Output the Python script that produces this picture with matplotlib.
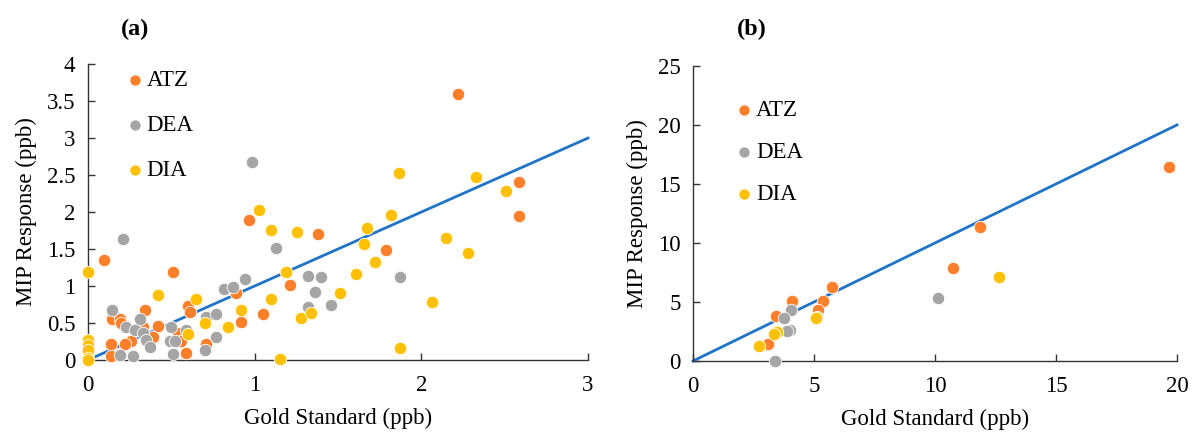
import matplotlib
matplotlib.use("Agg")
import matplotlib.pyplot as plt

plt.rcParams['font.family'] = ['Liberation Serif', 'DejaVu Serif']

# Panel (a) data
a_atz_x = [0.096, 0.51, 0.966, 1.38, 1.21, 0.89, 1.05, 0.92, 0.34, 0.146, 0.19, 0.20,
           0.33, 0.42, 0.60, 0.61, 0.54, 0.56, 0.39, 0.26, 0.22, 0.136, 0.136, 0.59, 0.71,
           2.22, 2.586, 2.586, 1.786]
a_atz_y = [1.35, 1.19, 1.89, 1.70, 1.01, 0.90, 0.62, 0.52, 0.67, 0.55, 0.56, 0.50,
           0.45, 0.46, 0.73, 0.65, 0.36, 0.25, 0.31, 0.26, 0.22, 0.22, 0.05, 0.09, 0.22,
           3.60, 2.40, 1.94, 1.48]
a_dea_x = [0.986, 0.21, 1.13, 0.94, 0.816, 0.87, 1.32, 1.40, 1.36, 1.46, 1.32, 0.146,
           0.23, 0.28, 0.31, 0.33, 0.35, 0.37, 0.50, 0.49, 0.52, 0.59, 0.71, 0.77, 0.77,
           0.70, 0.51, 0.27, 0.19, 1.87]
a_dea_y = [2.68, 1.64, 1.52, 1.10, 0.955, 0.98, 1.135, 1.12, 0.92, 0.75, 0.72, 0.675,
           0.45, 0.41, 0.55, 0.36, 0.27, 0.17, 0.45, 0.26, 0.26, 0.40, 0.58, 0.62, 0.31,
           0.13, 0.08, 0.05, 0.07, 1.12]
a_dia_x = [1.026, 1.096, 1.254, 1.19, 0.0, 0.42, 0.646, 1.096, 1.51, 0.92, 0.70, 0.84,
           1.276, 1.34, 0.60, 1.15, 0.0, 0.0, 0.0, 0.0, 0.0,
           1.866, 2.33, 2.51, 1.816, 1.676, 1.656, 2.15, 2.28, 1.72, 1.61, 2.066, 1.87]
a_dia_y = [2.03, 1.76, 1.73, 1.185, 1.185, 0.88, 0.83, 0.82, 0.90, 0.675, 0.50, 0.45,
           0.57, 0.63, 0.35, 0.01, 0.27, 0.20, 0.135, 0.03, 0.0,
           2.53, 2.48, 2.29, 1.955, 1.79, 1.57, 1.65, 1.45, 1.33, 1.16, 0.78, 0.16]

# Panel (b) data
b_atz_x = [5.76, 4.08, 5.36, 5.18, 3.43, 3.11, 11.86, 10.73, 19.68]
b_atz_y = [6.24, 5.11, 5.08, 4.32, 3.84, 1.41, 11.38, 7.91, 16.41]
b_dea_x = [4.04, 3.77, 4.01, 3.87, 3.39, 5.11, 10.14]
b_dea_y = [4.32, 3.61, 2.63, 2.54, 0.0, 3.70, 5.34]
b_dia_x = [5.08, 3.46, 3.36, 2.74, 12.64]
b_dia_y = [3.61, 2.49, 2.29, 1.30, 7.09]

a_xticks = [0, 1, 2, 3]
a_yticks = [0, 0.5, 1, 1.5, 2, 2.5, 3, 3.5, 4]
a_ytick_labels = ['0', '0.5', '1', '1.5', '2', '2.5', '3', '3.5', '4']
b_xticks = [0, 5, 10, 15, 20]
b_yticks = [0, 5, 10, 15, 20, 25]

C_ATZ = '#FF7F2A'
C_DEA = '#A5A5A5'
C_DIA = '#FFC000'
C_LINE = '#1F74C8'

fig = plt.figure(figsize=(11.92, 4.32), dpi=100)
axa = fig.add_axes([0.0738, 0.1667, 0.4195, 0.685])
axb = fig.add_axes([0.5814, 0.1644, 0.406, 0.683])

FS = 16.5
MS = 80

def style(ax):
    for s in ['top', 'right']:
        ax.spines[s].set_visible(False)
    for s in ['left', 'bottom']:
        ax.spines[s].set_color('#333333')
        ax.spines[s].set_linewidth(1.0)
    ax.tick_params(direction='in', length=5, width=1.0, color='#333333',
                   labelsize=FS, pad=11)
    ax.tick_params(axis='y', pad=9)
    ax.set_xlabel('Gold Standard (ppb)', fontsize=FS, labelpad=8)
    ax.set_ylabel('MIP Response (ppb)', fontsize=FS, labelpad=7)

def panel(ax, atz, dea, dia, lim, xticks, yticks, xmax, ymax):
    ax.plot([0, lim], [0, lim], color=C_LINE, lw=2, zorder=2, clip_on=False)
    ax.scatter(*atz, s=MS, color=C_ATZ, edgecolor='white', linewidth=0.6, zorder=3,
               clip_on=False, label='ATZ')
    ax.scatter(*dea, s=MS, color=C_DEA, edgecolor='white', linewidth=0.6, zorder=3,
               clip_on=False, label='DEA')
    ax.scatter(*dia, s=MS, color=C_DIA, edgecolor='white', linewidth=0.6, zorder=3,
               clip_on=False, label='DIA')
    ax.set_xlim(0, xmax)
    ax.set_ylim(0, ymax)
    ax.set_xticks(xticks)
    ax.set_yticks(yticks)
    style(ax)

panel(axa, (a_atz_x, a_atz_y), (a_dea_x, a_dea_y), (a_dia_x, a_dia_y), 3,
      a_xticks, a_yticks, 3, 4)
axa.set_yticklabels(a_ytick_labels)
panel(axb, (b_atz_x, b_atz_y), (b_dea_x, b_dea_y), (b_dia_x, b_dia_y), 20,
      b_xticks, b_yticks, 20, 25)

fig.text(135 / 1192, 1 - 29 / 432, '(a)', fontsize=FS + 1, fontweight='bold',
         ha='center', va='center')
fig.text(752 / 1192, 1 - 29 / 432, '(b)', fontsize=FS + 1, fontweight='bold',
         ha='center', va='center')

axa.legend(loc='upper left', bbox_to_anchor=(0.03, 1.05), frameon=False,
           fontsize=FS, handletextpad=0.0, labelspacing=1.05, handlelength=1.0,
           markerscale=0.9)
axb.legend(loc='upper left', bbox_to_anchor=(0.04, 0.955), frameon=False,
           fontsize=FS, handletextpad=0.0, labelspacing=0.92, handlelength=1.0,
           markerscale=0.9)

fig.savefig('out.png', dpi=100)
